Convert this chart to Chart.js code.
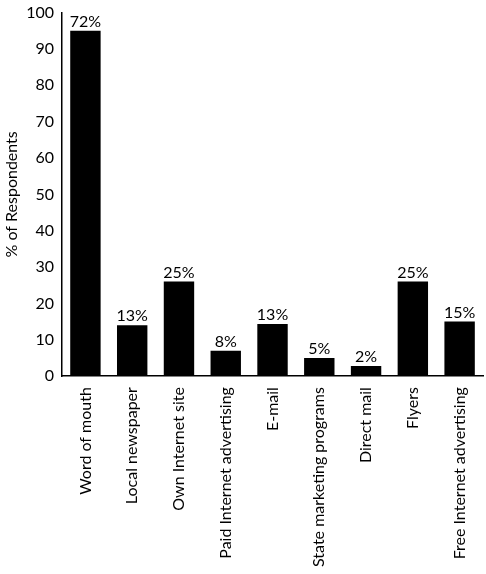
<!DOCTYPE html>
<html><head><meta charset="utf-8">
<script src="https://cdn.jsdelivr.net/npm/chart.js@4"></script>
<style>html,body{margin:0;padding:0;background:#fff}#w{width:486px;height:574px}</style>
</head><body><div id="w"><canvas id="c"></canvas></div>
<script>
const categories=["Word of mouth","Local newspaper","Own Internet site","Paid Internet advertising","E-mail","State marketing programs","Direct mail","Flyers","Free Internet advertising"];
const values=[95,14,26,7,14.3,5,2.8,26,15];
const barLabels=["72%","13%","25%","8%","13%","5%","2%","25%","15%"];
const yTicks=[0,10,20,30,40,50,60,70,80,90,100];
const F="Lato, sans-serif";
const labelPlugin={id:'lbl',afterDatasetsDraw(ch){const ctx=ch.ctx;const m=ch.getDatasetMeta(0);ctx.save();ctx.fillStyle='#000';ctx.font="16px "+F;ctx.textAlign='center';ctx.textBaseline='bottom';m.data.forEach((b,i)=>ctx.fillText(barLabels[i],b.x,b.y-1));ctx.restore();}};
new Chart(document.getElementById('c'),{type:'bar',data:{labels:categories,datasets:[{data:values,backgroundColor:'#000',categoryPercentage:0.65,barPercentage:1}]},
options:{responsive:true,maintainAspectRatio:false,animation:false,layout:{padding:{top:2,right:3,left:0,bottom:4}},
plugins:{legend:{display:false},tooltip:{enabled:false}},
scales:{x:{grid:{display:false,drawTicks:true},border:{color:'#000',width:1.5},ticks:{color:'#000',font:{family:F,size:16},maxRotation:90,minRotation:90,autoSkip:false}},
y:{min:0,max:100,afterBuildTicks(a){a.ticks=yTicks.map(v=>({value:v}));},grid:{display:false,drawTicks:true,tickLength:5,tickColor:'#000'},border:{color:'#000',width:1.5},ticks:{color:'#000',font:{family:F,size:16}},title:{display:true,text:'% of Respondents',color:'#000',font:{family:F,size:16},padding:2}}}},
plugins:[labelPlugin]});
</script></body></html>
